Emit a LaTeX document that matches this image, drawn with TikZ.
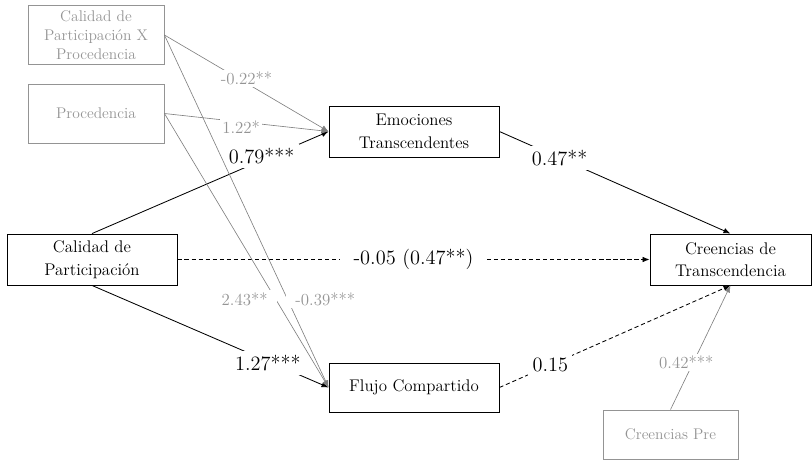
\documentclass[tikz,border=0pt]{standalone}
\usetikzlibrary{arrows.meta}

\definecolor{softgray}{gray}{0.58}
\definecolor{linegray}{gray}{0.5}

\tikzset{
  box/.style={draw, line width=0.6pt, align=center,
    minimum width=4.25cm, minimum height=1.275cm,
    font=\fontsize{12}{16}\selectfont},
  graybox/.style={box, draw=softgray, text=softgray,
    font=\fontsize{11}{13.5}\selectfont},
  effect/.style={line width=0.6pt, -{Latex[length=5pt, width=4pt]}},
  grayeffect/.style={effect, draw=linegray, line width=0.45pt},
  nulleffect/.style={effect, dash pattern=on 3pt off 2pt},
  coef/.style={fill=white, inner sep=3pt,
    font=\fontsize{14.5}{16}\selectfont},
  graycoef/.style={coef, text=softgray, inner sep=1.5pt,
    font=\fontsize{12}{14}\selectfont},
}

\begin{document}
\begin{tikzpicture}[x=0.025cm, y=-0.025cm]
%\draw[help lines, step=20] (0, 0) grid (812,460);
\useasboundingbox (0,0) rectangle (812,460);

\pgfmathsetmacro\xModerator{96};
\pgfmathsetmacro\xMediator{414};
\pgfmathsetmacro\yMiddle{259.5};

% moderators
\node [graybox, minimum width=3.4cm, minimum height=1.425cm]
  (interaccion) at (\xModerator, 35) {Calidad de\\Participación X\\Procedencia};
\node [graybox, minimum width=3.4cm, minimum height=1.475cm]
  (procedencia) at (\xModerator, 113.5) {Procedencia};

% main variables
\node [box] (calidad) at (92, \yMiddle) {Calidad de\\Participación};
\node [box] (emociones) at (\xMediator, 131.5) {Emociones\\Transcendentes};
\node [box, minimum height=1.225cm] (flujo) at (\xMediator, 387.5) {Flujo Compartido};
\node [box, minimum width=4.025cm] (creencias) at (730.5, \yMiddle)
  {Creencias de\\Transcendencia};

% control
\node [graybox, minimum width=3.375cm, minimum height=1.225cm]
  (pre) at (670.5, 434.5) {Creencias Pre};

% paths a
\draw [effect] (calidad.north) to
  node [coef, pos=0.717, yshift=3pt] {0.79***} (emociones.west);
\draw [effect] (calidad.south) to
  node [coef, pos=0.743, yshift=-1.5pt] {1.27***} (flujo.west);

% paths b
\draw [effect] (emociones.east) to
  node [coef, pos=0.26] {0.47**} (creencias.north);
\draw [nulleffect] (flujo.east) to
  node [coef, pos=0.22] {0.15} (creencias.south);

% direct path
\draw [nulleffect] (calidad.east) to
  node [coef, inner xsep=10pt, pos=0.5] {-0.05 (0.47**)} (creencias.west);

% moderation
\draw [grayeffect] (interaccion.east) to
  node [graycoef, pos=0.5, yshift=3.5pt] {-0.22**} (emociones.west);
\draw [grayeffect] (procedencia.east) to
  node [graycoef, pos=0.467, yshift=-4pt] {1.22*} (emociones.west);
\draw [grayeffect] (procedencia.east) to
  node [graycoef, inner xsep=7pt, pos=0.677, xshift=-22pt] {2.43**} (flujo.west);
\draw [grayeffect] (interaccion.east) to
  node [graycoef, inner xsep=7pt, pos=0.749, xshift=27pt] {-0.39***} (flujo.west);

% pretest
\draw [grayeffect] (pre.north) to
  node [graycoef, pos=0.38, xshift=-5pt] {0.42***} (creencias.south);

\end{tikzpicture}
\end{document}
